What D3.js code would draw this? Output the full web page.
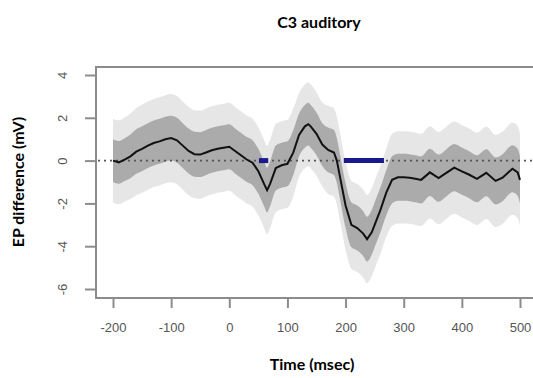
<!DOCTYPE html>
<html>
<head>
<meta charset="UTF-8">
<script src="https://d3js.org/d3.v7.min.js"></script>
<style>
  body { margin: 0; background: #fff; }
  svg { display: block; }
</style>
</head>
<body>
<div id="chart"></div>
<script>
// time points (msec)
const times = [-200,-190,-180,-170,-160,-150,-140,-130,-120,-110,-100,-90,-80,-70,-60,-50,-40,-30,-20,-10,0,
  10,20,30,40,50,60,
  65,70,80,90,100,110,120,130,
  136,140,150,160,170,180,185,190,200,210,220,230,
  237,245,250,260,270,280,290,300,310,320,330,
  345,360,372,387,400,412,426,442,458,470,487,496,500];

// mean EP difference (mV)
const meanDiff = [0,-0.08,0.05,0.2,0.42,0.55,0.7,0.82,0.9,1.0,1.05,0.95,0.7,0.45,0.3,0.28,0.38,0.48,0.55,0.6,0.65,
  0.45,0.25,0.05,-0.1,-0.5,-1.1,
  -1.38,-1.1,-0.35,-0.22,-0.15,0.37,1.2,1.6,
  1.7,1.6,1.25,0.75,0.5,0.38,0.0,-0.7,-2.1,-3.0,-3.15,-3.4,
  -3.67,-3.35,-3.0,-2.3,-1.5,-0.9,-0.78,-0.78,-0.8,-0.85,-0.9,
  -0.55,-0.82,-0.6,-0.33,-0.5,-0.65,-0.85,-0.57,-0.95,-0.8,-0.38,-0.55,-0.9];

// standard error
const se = [1.0,1.0,1.0,1.02,1.04,1.05,1.05,1.05,1.05,1.05,1.05,1.05,1.05,1.05,1.05,1.05,1.05,1.05,1.05,1.05,1.05,
  1.05,1.05,1.05,1.05,1.05,1.05,
  1.05,1.05,1.05,1.05,1.05,1.05,1.0,1.0,
  1.0,1.0,1.0,1.0,1.05,1.05,1.05,1.05,1.05,1.05,1.05,1.05,
  1.05,1.05,1.05,1.05,1.05,1.1,1.1,1.1,1.1,1.1,1.1,
  1.1,1.1,1.1,1.1,1.1,1.1,1.1,1.1,1.1,1.1,1.1,1.1,1.1];

// significant intervals (msec)
const sigStart = [51, 197];
const sigEnd = [67, 266];

const xTicks = [-200,-100,0,100,200,300,400,500];
const yTicks = [4,2,0,-2,-4,-6];

const data = times.map((t, i) => ({ t, m: meanDiff[i], s: se[i] }));

const width = 533, height = 378;
const svg = d3.select("#chart").append("svg")
  .attr("width", width).attr("height", height);

const x = d3.scaleLinear().domain([-200, 500]).range([113, 520]);
const y = d3.scaleLinear().domain([-6, 4]).range([289, 75]);

const boxTop = 67, boxBottom = 298, boxLeft = 96;

// bands
const outer = d3.area().x(d => x(d.t))
  .y0(d => y(d.m - 1.96 * d.s)).y1(d => y(d.m + 1.96 * d.s))
  .curve(d3.curveMonotoneX);
const inner = d3.area().x(d => x(d.t))
  .y0(d => y(d.m - d.s)).y1(d => y(d.m + d.s))
  .curve(d3.curveMonotoneX);

svg.append("path").datum(data).attr("d", outer).attr("fill", "#e6e6e6");
svg.append("path").datum(data).attr("d", inner).attr("fill", "#ababab");

// zero line
svg.append("line")
  .attr("x1", boxLeft + 2).attr("x2", width)
  .attr("y1", y(0)).attr("y2", y(0))
  .attr("stroke", "#555").attr("stroke-width", 1.6)
  .attr("stroke-dasharray", "2,4");

// significance bars
svg.selectAll(".sig").data(sigStart).enter().append("line")
  .attr("x1", d => x(d)).attr("x2", (d, i) => x(sigEnd[i]))
  .attr("y1", y(0)).attr("y2", y(0))
  .attr("stroke", "#1a1a8c").attr("stroke-width", 5);

// mean line
svg.append("path").datum(data)
  .attr("d", d3.line().x(d => x(d.t)).y(d => y(d.m)))
  .attr("fill", "none").attr("stroke", "#111").attr("stroke-width", 2);

// box
const boxColor = "#8c8c8c";
svg.append("path")
  .attr("d", `M${width},${boxTop}H${boxLeft}V${boxBottom}H${width}`)
  .attr("fill", "none").attr("stroke", boxColor).attr("stroke-width", 2);

// axes (plain hyphen for negatives, as in the original)
const fmt = d => String(d);
const yAxis = svg.append("g").attr("transform", `translate(${boxLeft},0)`)
  .call(d3.axisLeft(y).tickValues(yTicks).tickFormat(fmt).tickSize(11).tickPadding(18));
const xAxis = svg.append("g").attr("transform", `translate(0,${boxBottom})`)
  .call(d3.axisBottom(x).tickValues(xTicks).tickFormat(fmt).tickSize(10).tickPadding(15));

[xAxis, yAxis].forEach(g => {
  g.select(".domain").remove();
  g.selectAll(".tick line").attr("stroke", boxColor).attr("stroke-width", 2);
  g.selectAll("text").attr("fill", "#555")
    .style("font-family", "Liberation Sans, Arial, sans-serif").style("font-size", "13px");
});
yAxis.selectAll("text")
  .attr("x", 0).attr("dy", 0)
  .attr("transform", "translate(-32,0) rotate(-90)")
  .attr("text-anchor", "middle").attr("dominant-baseline", "middle");

// titles
const titleFont = "Lato, Open Sans, sans-serif";
svg.append("text").attr("x", 319).attr("y", 28)
  .attr("text-anchor", "middle").attr("font-weight", "bold")
  .style("font-family", titleFont).style("font-size", "16px")
  .text("C3 auditory");
svg.append("text").attr("x", 312).attr("y", 370)
  .attr("text-anchor", "middle").attr("font-weight", "bold")
  .style("font-family", titleFont).style("font-size", "16px")
  .text("Time (msec)");
svg.append("text")
  .attr("transform", "translate(24,182) rotate(-90)")
  .attr("text-anchor", "middle").attr("font-weight", "bold")
  .style("font-family", titleFont).style("font-size", "16px")
  .text("EP difference (mV)");
</script>
</body>
</html>
